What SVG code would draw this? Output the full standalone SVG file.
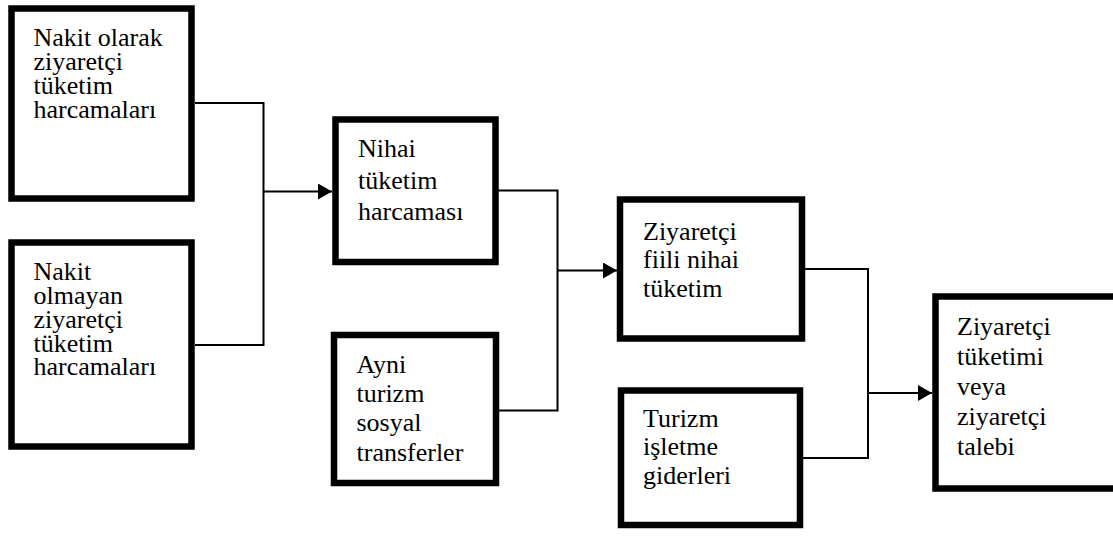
<svg xmlns="http://www.w3.org/2000/svg" width="1113" height="536" viewBox="0 0 1113 536">
<style>
.box{fill:#fff;stroke:#000;stroke-width:6.5}
.lbl{font-family:"Liberation Serif","Times New Roman",serif;font-size:26px;fill:#000}
.con{fill:none;stroke:#000;stroke-width:2}
</style>
<defs>
<marker id="ah" markerUnits="userSpaceOnUse" viewBox="0 0 14 16" refX="14" refY="8" markerWidth="14" markerHeight="16" orient="auto">
<path d="M0,0 L14,8 L0,16 z" fill="#000"/>
</marker>
</defs>
<rect width="1113" height="536" fill="#fff"/>
<g id="connectors">
<path class="con" d="M195,103 H263.5 V345 H195"/>
<path class="con" d="M263.5,191.5 H332" marker-end="url(#ah)"/>
<path class="con" d="M498,190.5 H557.5 V410.5 H499"/>
<path class="con" d="M557.5,270.5 H617" marker-end="url(#ah)"/>
<path class="con" d="M805,269 H868 V458 H803"/>
<path class="con" d="M868,393 H932" marker-end="url(#ah)"/>
</g>
<g id="node1">
<rect class="box" x="11.5" y="8.5" width="180" height="190"/>
<text class="lbl"><tspan x="33.5" y="45.5">Nakit olarak</tspan><tspan x="33.5" y="69.5">ziyaretçi</tspan><tspan x="33.5" y="93.5">tüketim</tspan><tspan x="33.5" y="117.5">harcamaları</tspan></text>
</g>
<g id="node2">
<rect class="box" x="11.5" y="242.5" width="180" height="204"/>
<text class="lbl"><tspan x="33.5" y="280">Nakit</tspan><tspan x="33.5" y="304">olmayan</tspan><tspan x="33.5" y="327.5">ziyaretçi</tspan><tspan x="33.5" y="351.5">tüketim</tspan><tspan x="33.5" y="375">harcamaları</tspan></text>
</g>
<g id="node3">
<rect class="box" x="335.5" y="119.5" width="160" height="142.5"/>
<text class="lbl"><tspan x="358" y="156.5">Nihai</tspan><tspan x="358" y="188.5">tüketim</tspan><tspan x="358" y="220">harcaması</tspan></text>
</g>
<g id="node4">
<rect class="box" x="334" y="335" width="162" height="148"/>
<text class="lbl"><tspan x="356.5" y="372.5">Ayni</tspan><tspan x="356.5" y="402">turizm</tspan><tspan x="356.5" y="431">sosyal</tspan><tspan x="356.5" y="460.5">transferler</tspan></text>
</g>
<g id="node5">
<rect class="box" x="620" y="199.5" width="182" height="139"/>
<text class="lbl"><tspan x="643" y="240">Ziyaretçi</tspan><tspan x="643" y="268">fiili nihai</tspan><tspan x="643" y="296.5">tüketim</tspan></text>
</g>
<g id="node6">
<rect class="box" x="621" y="390.5" width="179" height="134.5"/>
<text class="lbl"><tspan x="643" y="426.5">Turizm</tspan><tspan x="643" y="455">işletme</tspan><tspan x="643" y="483.5">giderleri</tspan></text>
</g>
<g id="node7">
<rect class="box" x="935.5" y="296.5" width="190" height="192"/>
<text class="lbl"><tspan x="957" y="335">Ziyaretçi</tspan><tspan x="957" y="365">tüketimi</tspan><tspan x="957" y="395">veya</tspan><tspan x="957" y="425">ziyaretçi</tspan><tspan x="957" y="455">talebi</tspan></text>
</g>
</svg>
